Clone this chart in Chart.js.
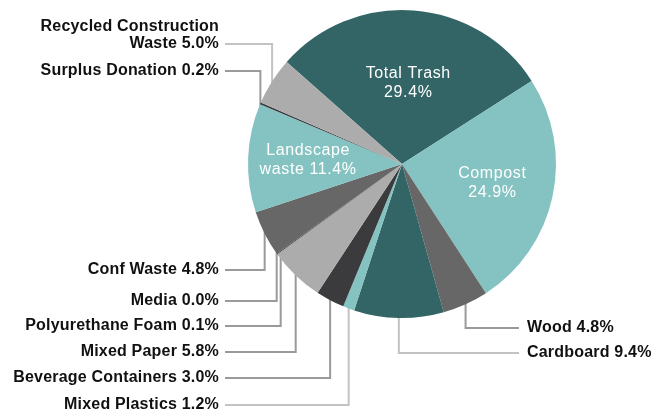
<!DOCTYPE html>
<html>
<head>
<meta charset="utf-8">
<script src="https://cdn.jsdelivr.net/npm/chart.js@4/dist/chart.umd.min.js"></script>
<style>
  html, body { margin: 0; padding: 0; background: #ffffff; }
  #wrap { width: 661px; height: 414px; position: relative; }
</style>
</head>
<body>
<div id="wrap"><canvas id="c"></canvas></div>
<script>
// ---- data ----
const categories = ['Total Trash', 'Compost', 'Wood', 'Cardboard', 'Mixed Plastics',
  'Beverage Containers', 'Mixed Paper', 'Polyurethane Foam', 'Media', 'Conf Waste',
  'Landscape waste', 'Surplus Donation', 'Recycled Construction Waste'];
const shares = [29.4, 24.9, 4.8, 9.4, 1.2, 3.0, 5.8, 0.1, 0.0, 4.8, 11.4, 0.2, 5.0];
const sliceColors = ['#336566', '#84c3c1', '#676767', '#336566', '#84c3c1',
  '#3b3b3d', '#acacac', '#3b3b3d', '#3b3b3d', '#676767',
  '#84c3c1', '#3b3b3d', '#acacac'];

// labels drawn inside the pie (line 1 / line 2 texts)
const insideLabels = {
  'Total Trash': ['Total Trash', '29.4%'],
  'Compost': ['Compost', '24.9%'],
  'Landscape waste': ['Landscape', 'waste 11.4%']
};
// labels drawn outside with leader lines
const outsideLabels = {
  'Recycled Construction Waste': ['Recycled Construction', 'Waste 5.0%'],
  'Surplus Donation': ['Surplus Donation 0.2%'],
  'Conf Waste': ['Conf Waste 4.8%'],
  'Media': ['Media 0.0%'],
  'Polyurethane Foam': ['Polyurethane Foam 0.1%'],
  'Mixed Paper': ['Mixed Paper 5.8%'],
  'Beverage Containers': ['Beverage Containers 3.0%'],
  'Mixed Plastics': ['Mixed Plastics 1.2%'],
  'Wood': ['Wood 4.8%'],
  'Cardboard': ['Cardboard 9.4%']
};

// ---- layout (positions/styles only) ----
const insideRadius = { 'Total Trash': 0.53, 'Compost': 0.6, 'Landscape waste': 0.61 };
const outsideLayout = {
  'Recycled Construction Waste': { side: 'left', y: 44 },
  'Surplus Donation': { side: 'left', y: 71 },
  'Conf Waste': { side: 'left', y: 270 },
  'Media': { side: 'left', y: 301 },
  'Polyurethane Foam': { side: 'left', y: 326 },
  'Mixed Paper': { side: 'left', y: 352 },
  'Beverage Containers': { side: 'left', y: 378 },
  'Mixed Plastics': { side: 'left', y: 405 },
  'Wood': { side: 'right', y: 328 },
  'Cardboard': { side: 'right', y: 353 }
};
const lightLines = ['Mixed Plastics', 'Cardboard', 'Recycled Construction Waste'];
const LEFT_TEXT_X = 219, LEFT_LINE_X = 225, RIGHT_LINE_X = 519, RIGHT_TEXT_X = 527;

function computeLeaders(chart) {
  const meta = chart.getDatasetMeta(0);
  const out = [];
  meta.data.forEach((arc, i) => {
    const name = categories[i];
    const lay = outsideLayout[name];
    if (!lay) return;
    const mid = (arc.startAngle + arc.endAngle) / 2;
    const r = arc.outerRadius;
    out.push({ name, lay, cx: arc.x, cy: arc.y, r, x: arc.x + r * Math.cos(mid) });
  });
  // keep nested vertical lines apart
  const groups = [
    out.filter(o => o.lay.side === 'left' && o.lay.y > o.cy).sort((a, b) => a.lay.y - b.lay.y),
    out.filter(o => o.lay.side === 'left' && o.lay.y <= o.cy).sort((a, b) => b.lay.y - a.lay.y)
  ];
  groups.forEach(g => {
    for (let k = 1; k < g.length; k++) {
      if (g[k].x < g[k - 1].x + 4) g[k].x = g[k - 1].x + 4;
    }
  });
  return out;
}

const pieLabels = {
  id: 'pieLabels',
  beforeDatasetsDraw(chart) {
    const ctx = chart.ctx;
    ctx.save();
    ctx.lineWidth = 2;
    computeLeaders(chart).forEach(o => {
      const dx = o.x - o.cx;
      const h = Math.sqrt(Math.max(o.r * o.r - dx * dx, 0));
      const below = o.lay.y > o.cy;
      const yEdge = below ? o.cy + h - 3 : o.cy - h + 3;
      const xs = o.lay.side === 'left' ? LEFT_LINE_X : RIGHT_LINE_X;
      ctx.strokeStyle = lightLines.includes(o.name) ? '#c3c3c3' : '#9a9a9a';
      ctx.beginPath();
      ctx.moveTo(xs, o.lay.y);
      ctx.lineTo(o.x, o.lay.y);
      ctx.lineTo(o.x, yEdge);
      ctx.stroke();
    });
    ctx.restore();
  },
  afterDatasetsDraw(chart) {
    const ctx = chart.ctx;
    const meta = chart.getDatasetMeta(0);
    ctx.save();
    // inside labels
    ctx.fillStyle = '#ffffff';
    ctx.font = '16px "Liberation Sans", Arial, sans-serif';
    ctx.letterSpacing = '0.6px';
    ctx.textAlign = 'center';
    ctx.textBaseline = 'middle';
    meta.data.forEach((arc, i) => {
      const lines = insideLabels[categories[i]];
      if (!lines) return;
      const mid = (arc.startAngle + arc.endAngle) / 2;
      const rr = arc.outerRadius * insideRadius[categories[i]];
      const x = arc.x + rr * Math.cos(mid);
      const y = arc.y + rr * Math.sin(mid);
      ctx.fillText(lines[0], x, y - 9.5);
      ctx.fillText(lines[1], x, y + 9.5);
    });
    // outside labels
    ctx.fillStyle = '#111111';
    ctx.font = 'bold 16px "Liberation Sans", Arial, sans-serif';
    ctx.letterSpacing = '0.2px';
    Object.keys(outsideLayout).forEach(name => {
      const lay = outsideLayout[name];
      const lines = outsideLabels[name];
      const left = lay.side === 'left';
      ctx.textAlign = left ? 'right' : 'left';
      const x = left ? LEFT_TEXT_X : RIGHT_TEXT_X;
      for (let k = 0; k < lines.length; k++) {
        const y = lay.y - (lines.length - 1 - k) * 17;
        ctx.fillText(lines[k], x, y);
      }
    });
    ctx.restore();
  }
};

new Chart(document.getElementById('c'), {
  type: 'pie',
  data: {
    labels: categories,
    datasets: [{
      data: shares,
      backgroundColor: sliceColors,
      borderWidth: 0,
      hoverOffset: 0,
      offset: 0
    }]
  },
  options: {
    responsive: true,
    maintainAspectRatio: false,
    animation: false,
    events: [],
    rotation: -48.5,
    layout: { padding: { left: 248, right: 105, top: 10, bottom: 96 } },
    plugins: { legend: { display: false }, tooltip: { enabled: false } }
  },
  plugins: [pieLabels]
});
</script>
</body>
</html>
